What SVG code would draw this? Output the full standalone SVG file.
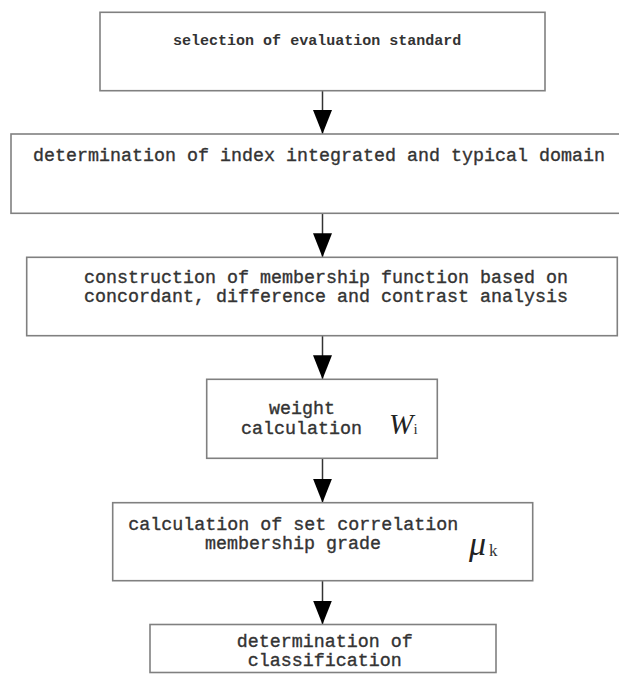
<svg xmlns="http://www.w3.org/2000/svg" width="619" height="674" viewBox="0 0 619 674">
<style>
.box{fill:#fff;stroke:#808080;stroke-width:1.6}
.t{font-family:"Liberation Mono",monospace;font-size:18.33px;fill:#333;stroke:#333;stroke-width:0.35}
.t1{font-family:"Liberation Mono",monospace;font-size:15.03px;font-weight:bold;fill:#333}
.m{font-family:"Liberation Serif",serif;font-style:italic;fill:#222}
.s{font-family:"Liberation Serif",serif;fill:#333}
.c{stroke:#333;stroke-width:1.5;fill:none;marker-end:url(#ah)}
</style>
<defs>
<marker id="ah" markerUnits="userSpaceOnUse" viewBox="0 0 24 19" markerWidth="24" markerHeight="19" refX="24" refY="9.5" orient="auto">
<path d="M0,0 L24,9.5 L0,19 z" fill="#000"/>
</marker>
</defs>
<rect width="619" height="674" fill="#fff"/>
<g id="connectors">
<line class="c" x1="322.5" y1="90.7" x2="322.5" y2="134"/>
<line class="c" x1="322.5" y1="213.3" x2="322.5" y2="257.3"/>
<line class="c" x1="322.5" y1="335.7" x2="322.5" y2="379.3"/>
<line class="c" x1="322.5" y1="458.3" x2="322.5" y2="502.7"/>
<line class="c" x1="322.5" y1="580.7" x2="322.5" y2="624.5"/>
</g>
<g id="n1">
<rect class="box" x="100" y="12.3" width="445" height="78.4"/>
<text class="t1" x="173" y="44.5">selection of evaluation standard</text>
</g>
<g id="n2">
<rect class="box" x="11" y="134" width="620" height="79.3"/>
<text class="t" x="33" y="161">determination of index integrated and typical domain</text>
</g>
<g id="n3">
<rect class="box" x="26.7" y="257.3" width="590.6" height="78.4"/>
<text class="t" x="84" y="282.7">construction of membership function based on</text>
<text class="t" x="84" y="301.7">concordant, difference and contrast analysis</text>
</g>
<g id="n4">
<rect class="box" x="206.7" y="379.3" width="230.6" height="79"/>
<text class="t" x="269" y="414.3">weight</text>
<text class="t" x="241" y="434.3">calculation</text>
<text class="m" x="389" y="434.3" font-size="29">W</text>
<text class="s" x="413.5" y="434.3" font-size="15">i</text>
</g>
<g id="n5">
<rect class="box" x="112.7" y="502.7" width="420" height="78"/>
<text class="t" x="128.3" y="530">calculation of set correlation</text>
<text class="t" x="205" y="549.3">membership grade</text>
<text class="m" x="469" y="555" font-size="34">μ</text>
<text class="s" x="489" y="556" font-size="17">k</text>
</g>
<g id="n6">
<rect class="box" x="150" y="624.5" width="346" height="48"/>
<text class="t" x="236.7" y="646.7">determination of</text>
<text class="t" x="247.7" y="666">classification</text>
</g>
</svg>
